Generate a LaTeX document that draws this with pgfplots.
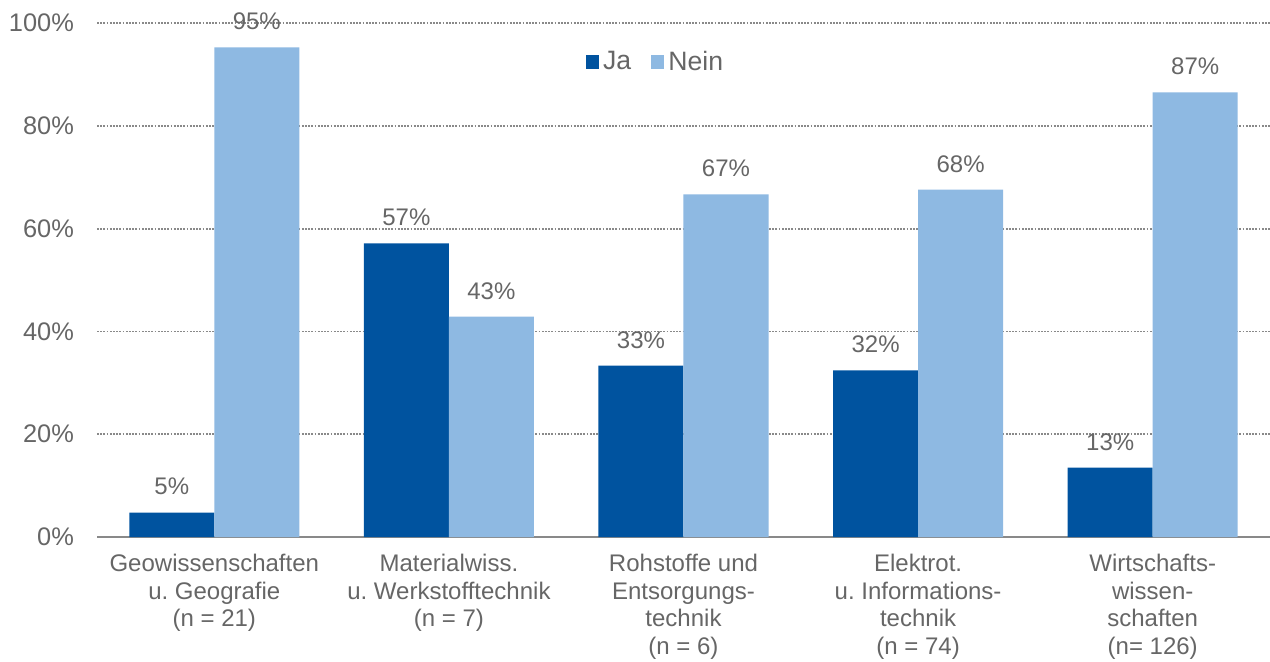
\documentclass[border=0pt]{standalone}
\usepackage{fontspec}
\setmainfont{Liberation Sans}
\usepackage{pgfplots}
\pgfplotsset{compat=1.18}
\definecolor{darkb}{RGB}{0,83,159}
\definecolor{lightb}{RGB}{142,185,226}
\definecolor{txt}{RGB}{102,102,102}
\definecolor{gridc}{RGB}{137,137,137}
\frenchspacing
\begin{document}
\begin{tikzpicture}
\begin{axis}[
  scale only axis, width=586.5pt, height=257pt,
  at={(0,0)}, anchor=south west,
  /pgf/number format/assume math mode=true,
  ybar=0pt, bar width=42.5pt,
  xmin=-0.5, xmax=4.5, ymin=0, ymax=100,
  axis x line*=bottom, axis y line*=left,
  x axis line style={draw=gridc, line width=1pt, -},
  y axis line style={draw=none},
  xtick={0,1,2,3,4},
  xticklabels={{Geowissenschaften\\u. Geografie\\(n = 21)},
               {Materialwiss.\\u. Werkstofftechnik\\(n = 7)},
               {Rohstoffe und\\Entsorgungs-\\technik\\(n = 6)},
               {Elektrot.\\u. Informations-\\technik\\(n = 74)},
               {Wirtschafts-\\wissen-\\schaften\\(n= 126)}},
  xticklabel style={align=center, font=\fontsize{12}{13.8}\selectfont, text=txt, yshift=-5pt},
  ytick={0,20,40,60,80,100},
  yticklabel={\pgfmathprintnumber{\tick}\%},
  yticklabel style={font=\fontsize{12.7}{15}\selectfont, text=txt, xshift=-8pt},
  major tick length=0pt,
  ymajorgrids,
  grid style={draw=gridc, line width=0.9pt, dash pattern=on 0.9pt off 0.7pt},
  nodes near coords={\pgfmathprintnumber[fixed,precision=0]{\pgfplotspointmeta}\%},
  every node near coord/.append style={font=\fontsize{12}{14}\selectfont, text=txt, inner sep=0pt, yshift=8.5pt},
  legend style={at={(0.477,0.924)}, anchor=center, draw=none, fill=none,
    font=\fontsize{13.3}{15}\selectfont, text=txt, legend columns=2,
    /tikz/every even column/.append style={column sep=8pt}},
  legend image code/.code={\fill[#1] (0pt,-3.3pt) rectangle (6.6pt,3.3pt);},
]
\addplot[fill=darkb, draw=none] coordinates {(0,4.76) (1,57.14) (2,33.33) (3,32.43) (4,13.49)};
\addplot[fill=lightb, draw=none] coordinates {(0,95.24) (1,42.86) (2,66.67) (3,67.57) (4,86.51)};
\legend{Ja, Nein}
\end{axis}
\pgfresetboundingbox
\path (-48.5pt,-62pt) rectangle (586.5pt,268.5pt);
\end{tikzpicture}
\end{document}
